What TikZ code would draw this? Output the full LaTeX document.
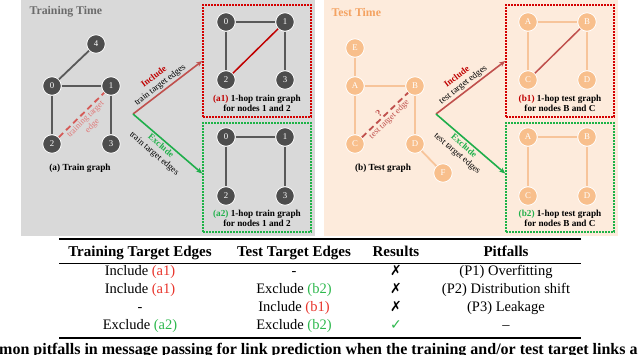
\documentclass[tikz,border=0pt]{standalone}
\usepackage{fontspec}
\setmainfont{Liberation Serif}
\newfontfamily\symfont{DejaVu Sans}
\usetikzlibrary{arrows.meta}
\definecolor{graybg}{HTML}{D9D9D9}
\definecolor{peachbg}{HTML}{FDEBDC}
\definecolor{nodegray}{HTML}{4D4D4D}
\definecolor{edgegray}{HTML}{595959}
\definecolor{peachnode}{HTML}{F8BF8C}
\definecolor{peachedge}{HTML}{F7C49A}
\definecolor{titlegray}{HTML}{6B6B6B}
\definecolor{titlepeach}{HTML}{F4A261}
\definecolor{inclred}{HTML}{C00000}
\definecolor{exclgreen}{HTML}{22B14C}
\definecolor{arrred}{HTML}{C0504D}
\definecolor{arrgreen}{HTML}{1FAE4B}
\definecolor{boxred}{HTML}{D40000}
\definecolor{boxgreen}{HTML}{1DB347}
\definecolor{dashred}{HTML}{D55A57}
\definecolor{dashlabel}{HTML}{E07A7A}
\definecolor{tabred}{HTML}{E8332A}
\definecolor{tabgreen}{HTML}{2DB84D}
\begin{document}
\begin{tikzpicture}[x=1pt,y=-1pt,
  gn/.style={circle, fill=nodegray, draw=white, line width=0.8pt, minimum size=18.5pt, inner sep=0pt, text=white, font=\fontsize{8.8}{8.8}\selectfont},
  pn/.style={gn, fill=peachnode},
  ge/.style={draw=edgegray, line width=1.8pt},
  pe/.style={draw=peachedge, line width=1.8pt},
  sge/.style={draw=edgegray, line width=1.6pt},
  spe/.style={draw=peachedge, line width=1.6pt},
  tdash/.style={draw=dashred, line width=1.8pt, dash pattern=on 6pt off 4pt},
  dlabel/.style={font=\fontsize{8.6}{9.5}\selectfont, text=dashlabel, align=center, inner sep=1.5pt},
  ptitle/.style={anchor=west, font=\bfseries\fontsize{11.8}{12}\selectfont},
  glabel/.style={font=\bfseries\fontsize{9.3}{10}\selectfont},
  blabel/.style={font=\bfseries\fontsize{9.2}{10}\selectfont, align=center},
  redbox/.style={draw=boxred, line width=1.6pt, dash pattern=on 1.6pt off 1.4pt, minimum width=108pt, minimum height=112pt, inner sep=0pt},
  greenbox/.style={draw=boxgreen, line width=1.6pt, dash pattern=on 1.6pt off 1.4pt, minimum width=108pt, minimum height=109pt, inner sep=0pt},
  rarr/.style={draw=arrred, line width=1.6pt, -{Stealth[length=6pt,width=5pt]}},
  garr/.style={draw=arrgreen, line width=1.6pt, -{Stealth[length=6pt,width=5pt]}},
  alabel/.style={font=\fontsize{9}{10}\selectfont, align=center, inner sep=1.5pt},
  th/.style={anchor=base, font=\bfseries\fontsize{15}{15}\selectfont, inner sep=0pt},
  td/.style={anchor=base, font=\fontsize{14.5}{15}\selectfont, inner sep=0pt},
  mk/.style={anchor=base, font=\symfont\fontsize{14}{14}\selectfont, inner sep=0pt}
]
\useasboundingbox (0,0) rectangle (640,354);
% panels
\fill[graybg] (20.5,0) rectangle (315,235.5);
\fill[peachbg] (324,0) rectangle (618,235.5);
\node[ptitle, text=titlegray] (ttitle) at (26,12) {Training Time};
\node[ptitle, text=titlepeach] (stitle) at (328,12) {Test Time};

% train graph
\node[gn] (n4) at (96,44) {4};
\node[gn] (n0) at (52,86) {0};
\node[gn] (n1) at (111,86) {1};
\node[gn] (n2) at (52,144) {2};
\node[gn] (n3) at (111,144) {3};
\draw[ge] (n4) -- (n0);
\draw[ge] (n0) -- (n1);
\draw[ge] (n0) -- (n2);
\draw[ge] (n1) -- (n3);
\draw[tdash] (n2) -- (n1) node[midway, sloped, below, dlabel] {training target\\edge};
\node[glabel] (tgl) at (80,168) {(a) Train graph};

% test graph
\node[pn] (tE) at (355,48) {E};
\node[pn] (tA) at (355,86) {A};
\node[pn] (tB) at (415,86) {B};
\node[pn] (tC) at (355,144) {C};
\node[pn] (tD) at (415,144) {D};
\node[pn] (tF) at (443,173) {F};
\draw[pe] (tE) -- (tA);
\draw[pe] (tA) -- (tB);
\draw[pe] (tA) -- (tC);
\draw[pe] (tB) -- (tD);
\draw[pe] (tD) -- (tF);
\draw[tdash, draw=arrred] (tC) -- (tB)
  node[pos=0.45, sloped, above, font=\bfseries\fontsize{10}{10}\selectfont, text=arrred, inner sep=1pt] {?}
  node[midway, sloped, below, dlabel, text=arrred] {test target edge};
\node[glabel] (sgl) at (383,168) {(b) Test graph};

% boxes
\node[redbox] (a1box) at (257,61) {};
\node[greenbox] (a2box) at (257,177.5) {};
\node[redbox] (b1box) at (560,61) {};
\node[greenbox] (b2box) at (560,177.5) {};

% arrows train
\coordinate (tra) at (133,114);
\draw[rarr] (tra) -- (a1box.west) node[pos=0.45, sloped, above, alabel] {\textcolor{inclred}{\bfseries Include}\\train target edges};
\draw[garr] (tra) -- ([yshift=4pt]a2box.west) node[pos=0.46, sloped, below, alabel] {\textcolor{exclgreen}{\bfseries Exclude}\\train target edges};
% arrows test
\coordinate (tsa) at (436,114);
\draw[rarr] (tsa) -- (b1box.west) node[pos=0.45, sloped, above, alabel] {\textcolor{inclred}{\bfseries Include}\\test target edges};
\draw[garr] (tsa) -- ([yshift=4pt]b2box.west) node[pos=0.46, sloped, below, alabel] {\textcolor{exclgreen}{\bfseries Exclude}\\test target edges};

% a1
\node[gn] (a0) at (226,22) {0};
\node[gn] (a1) at (285,22) {1};
\node[gn] (a2) at (226,80) {2};
\node[gn] (a3) at (285,80) {3};
\draw[sge] (a0) -- (a1);
\draw[sge] (a0) -- (a2);
\draw[sge] (a1) -- (a3);
\draw[draw=inclred, line width=1.5pt] (a2) -- (a1);
\node[blabel] (a1lab) at (257,103) {\textcolor{inclred}{(a1)} 1-hop train graph\\for nodes 1 and 2};

% a2
\node[gn] (c0) at (226,137) {0};
\node[gn] (c1) at (285,137) {1};
\node[gn] (c2) at (226,196) {2};
\node[gn] (c3) at (285,196) {3};
\draw[sge] (c0) -- (c1);
\draw[sge] (c0) -- (c2);
\draw[sge] (c1) -- (c3);
\node[blabel] (a2lab) at (257,218.5) {\textcolor{exclgreen}{(a2)} 1-hop train graph\\for nodes 1 and 2};

% b1
\node[pn] (bA) at (528,22) {A};
\node[pn] (bB) at (587,22) {B};
\node[pn] (bC) at (528,80) {C};
\node[pn] (bD) at (587,80) {D};
\draw[spe] (bA) -- (bB);
\draw[spe] (bA) -- (bC);
\draw[spe] (bB) -- (bD);
\draw[draw=arrred, line width=1.5pt] (bC) -- (bB);
\node[blabel] (b1lab) at (560,103) {\textcolor{inclred}{(b1)} 1-hop test graph\\for nodes B and C};

% b2
\node[pn] (dA) at (528,137) {A};
\node[pn] (dB) at (587,137) {B};
\node[pn] (dC) at (528,196) {C};
\node[pn] (dD) at (587,196) {D};
\draw[spe] (dA) -- (dB);
\draw[spe] (dA) -- (dC);
\draw[spe] (dB) -- (dD);
\node[blabel] (b2lab) at (560,218.5) {\textcolor{exclgreen}{(b2)} 1-hop test graph\\for nodes B and C};

% table
\draw[line width=1.2pt] (59,239) -- (581,239);
\draw[line width=0.6pt] (59,263) -- (581,263);
\draw[line width=1.2pt] (59,338) -- (581,338);
\node[th] (h1) at (140,256) {Training Target Edges};
\node[th] (h2) at (294,256) {Test Target Edges};
\node[th] (h3) at (396,256) {Results};
\node[th] (h4) at (506,256) {Pitfalls};
\node[td] (r11) at (140,275.5) {Include \textcolor{tabred}{(a1)}};
\node[td] (r12) at (294,275.5) {-};
\node[mk] (r13) at (396,275.5) {✗};
\node[td] (r14) at (506,275.5) {(P1) Overfitting};
\node[td] (r21) at (140,293.5) {Include \textcolor{tabred}{(a1)}};
\node[td] (r22) at (294,293.5) {Exclude \textcolor{tabgreen}{(b2)}};
\node[mk] (r23) at (396,293.5) {✗};
\node[td] (r24) at (506,293.5) {(P2) Distribution shift};
\node[td] (r31) at (140,311.5) {-};
\node[td] (r32) at (294,311.5) {Include \textcolor{tabred}{(b1)}};
\node[mk] (r33) at (396,311.5) {✗};
\node[td] (r34) at (506,311.5) {(P3) Leakage};
\node[td] (r41) at (140,329.5) {Exclude \textcolor{tabgreen}{(a2)}};
\node[td] (r42) at (294,329.5) {Exclude \textcolor{tabgreen}{(b2)}};
\node[mk, text=tabgreen] (r43) at (396,329.5) {✓};
\node[td] (r44) at (506,329.5) {–};
% caption (cut)
\node[anchor=base west, font=\bfseries\fontsize{16}{16}\selectfont, inner sep=0pt] (cap) at (-1,354) {mon pitfalls in message passing for link prediction when the training and/or test target links a};
\end{tikzpicture}
\end{document}
